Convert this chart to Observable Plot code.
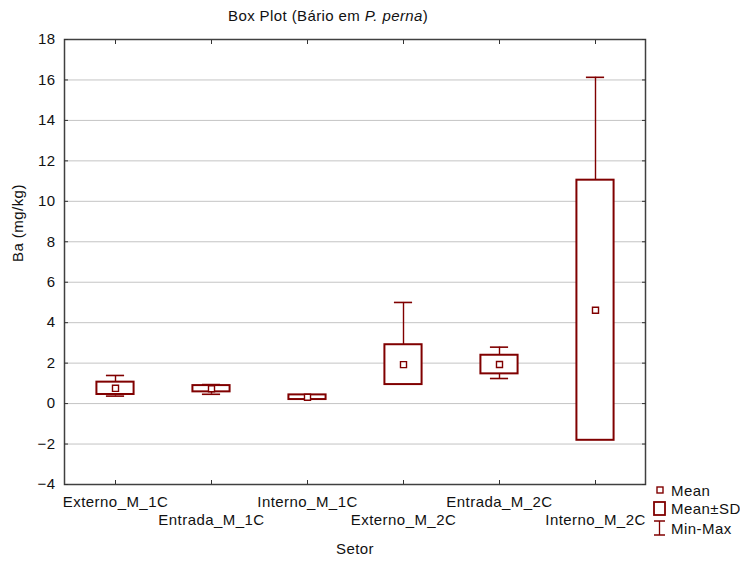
<!DOCTYPE html>
<html>
<head>
<meta charset="utf-8">
<script src="https://cdn.jsdelivr.net/npm/d3@7"></script>
<script src="https://cdn.jsdelivr.net/npm/@observablehq/plot@0.6"></script>
<style>
  body { margin: 0; background: #fff; }
  #wrap { position: relative; width: 740px; height: 561px; overflow: hidden; font-family: "Liberation Sans", Arial, sans-serif; }
  #title { position: absolute; top: 7px; left: 228px; font-size: 15px; letter-spacing: 0.4px; color: #111; white-space: nowrap; }
  #chart { position: absolute; top: 0; left: 0; }
  #chart svg text { letter-spacing: 0.45px; }
</style>
</head>
<body>
<div id="wrap">
  <div id="chart"></div>
  <div id="title">Box Plot (Bário em <i>P. perna</i>)</div>
</div>
<script>
// Data
const categories = ["Externo_M_1C", "Entrada_M_1C", "Interno_M_1C", "Externo_M_2C", "Entrada_M_2C", "Interno_M_2C"];
const means = [0.755, 0.735, 0.315, 1.925, 1.93, 4.615];
const sds   = [0.305, 0.155, 0.115, 0.985, 0.46, 6.43];
const mins  = [0.37, 0.46, 0.22, 0.98, 1.24, 0.30];
const maxs  = [1.39, 0.94, 0.42, 5.00, 2.79, 16.13];
const yTicks = [-4, -2, 0, 2, 4, 6, 8, 10, 12, 14, 16, 18];
const gridValues = [-2, 0, 2, 4, 6, 8, 10, 12, 14, 16];

const rows = categories.map((c, i) => ({
  cat: c, mean: means[i], lo: means[i] - sds[i], hi: means[i] + sds[i], min: mins[i], max: maxs[i], idx: i
}));

const W = 740, H = 561;
const mL = 64, mR = 95, mT = 39, mB = 77;
const step = (W - mL - mR) / categories.length;
const boxInset = (step - 38) / 2;
const capInset = (step - 19) / 2;
const RED = "#800000";
const FONT = "Liberation Sans, Arial, sans-serif";
const FS = 15;

const chart = Plot.plot({
  width: W, height: H,
  marginLeft: mL, marginRight: mR, marginTop: mT, marginBottom: mB,
  style: { fontFamily: FONT, fontSize: FS + "px", color: "#111", background: "white" },
  x: { type: "band", domain: categories, padding: 0, axis: null },
  y: { domain: [-4, 18], axis: null },
  marks: [
    Plot.ruleY(gridValues, { stroke: "#c4c4c4", strokeWidth: 1 }),
    Plot.ruleX(rows, { x: "cat", y1: "min", y2: "max", stroke: RED, strokeWidth: 1.4 }),
    Plot.tickY(rows, { x: "cat", y: "max", stroke: RED, strokeWidth: 1.6, insetLeft: capInset, insetRight: capInset }),
    Plot.tickY(rows, { x: "cat", y: "min", stroke: RED, strokeWidth: 1.6, insetLeft: capInset, insetRight: capInset }),
    Plot.barY(rows, { x: "cat", y1: "lo", y2: "hi", fill: "white", stroke: RED, strokeWidth: 2, insetLeft: boxInset, insetRight: boxInset }),
    Plot.dot(rows, { x: "cat", y: "mean", symbol: "square", r: 3.4, fill: "white", stroke: RED, strokeWidth: 1.4 }),
    Plot.frame({ stroke: "#404040", strokeWidth: 1.5 }),
    // y tick labels
    Plot.axisY({ anchor: "left", ticks: yTicks, tickSize: 0, tickPadding: 9, fontSize: FS, label: null }),
    // inward ticks on all four sides
    Plot.axisY({ anchor: "left", ticks: yTicks, tickSize: 4, dx: 4, tickFormat: () => "", label: null, stroke: "#333" }),
    Plot.axisY({ anchor: "right", ticks: yTicks, tickSize: 4, dx: -4, tickFormat: () => "", label: null, stroke: "#333" }),
    Plot.axisX({ anchor: "top", tickSize: 4, dy: 4, tickFormat: () => "", label: null, stroke: "#333" }),
    Plot.axisX({ anchor: "bottom", tickSize: 4, dy: -4, tickFormat: () => "", label: null, stroke: "#333" }),
    // staggered category labels
    Plot.text(rows.filter(d => d.idx % 2 === 0), { x: "cat", text: "cat", frameAnchor: "bottom", dy: 18, lineAnchor: "middle", fontSize: FS, fill: "#111" }),
    Plot.text(rows.filter(d => d.idx % 2 === 1), { x: "cat", text: "cat", frameAnchor: "bottom", dy: 36, lineAnchor: "middle", fontSize: FS, fill: "#111" }),
    // axis titles
    Plot.text(["Setor"], { frameAnchor: "bottom", dy: 64.5, lineAnchor: "middle", fontSize: FS, fill: "#111" }),
    Plot.text(["Ba (mg/kg)"], { frameAnchor: "left", dx: -46, rotate: -90, lineAnchor: "middle", fontSize: FS, fill: "#111" })
  ]
});

document.getElementById("chart").appendChild(chart);

// Legend (bottom right)
const svg = d3.select(chart);
const lg = svg.append("g").attr("font-family", FONT).attr("font-size", FS).attr("fill", "#111").attr("text-anchor", "start");
lg.append("rect").attr("x", 657).attr("y", 487).attr("width", 6).attr("height", 6)
  .attr("fill", "white").attr("stroke", RED).attr("stroke-width", 1.4);
lg.append("text").attr("x", 671).attr("y", 491).attr("dy", "0.35em").text("Mean");
lg.append("rect").attr("x", 654).attr("y", 502).attr("width", 11).attr("height", 13)
  .attr("fill", "white").attr("stroke", RED).attr("stroke-width", 1.8);
lg.append("text").attr("x", 671).attr("y", 509).attr("dy", "0.35em").text("Mean±SD");
lg.append("line").attr("x1", 654).attr("x2", 665).attr("y1", 521).attr("y2", 521).attr("stroke", RED).attr("stroke-width", 1.5);
lg.append("line").attr("x1", 654).attr("x2", 665).attr("y1", 535).attr("y2", 535).attr("stroke", RED).attr("stroke-width", 1.5);
lg.append("line").attr("x1", 659.5).attr("x2", 659.5).attr("y1", 521).attr("y2", 535).attr("stroke", RED).attr("stroke-width", 1.3);
lg.append("text").attr("x", 671).attr("y", 529).attr("dy", "0.35em").text("Min-Max");
</script>
</body>
</html>
